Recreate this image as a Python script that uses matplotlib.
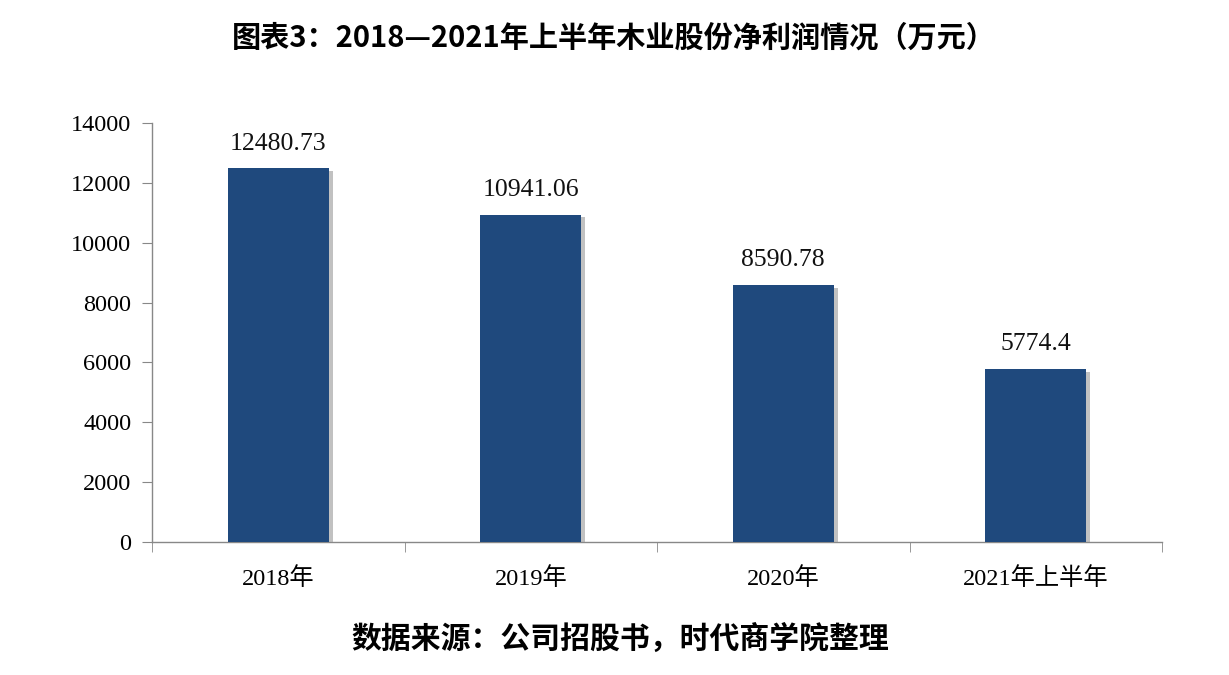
import matplotlib
matplotlib.use("Agg")
import matplotlib.pyplot as plt
import matplotlib.patheffects as pe

categories = ["2018年", "2019年", "2020年", "2021年上半年"]
values = [12480.73, 10941.06, 8590.78, 5774.4]
value_labels = ["12480.73", "10941.06", "8590.78", "5774.4"]
yticks = [0, 2000, 4000, 6000, 8000, 10000, 12000, 14000]

title = "图表3：2018—2021年上半年木业股份净利润情况（万元）"
source = "数据来源：公司招股书，时代商学院整理"

serif = ["Liberation Serif", "Noto Sans CJK SC"]
cjk = ["Noto Sans CJK SC", "DejaVu Sans"]

fig = plt.figure(figsize=(12.29, 6.75), dpi=100)
ax = fig.add_axes([152/1229, 133/675, (1162-152)/1229, (542-123)/675])

x = list(range(len(categories)))
bars = ax.bar(x, values, width=0.4, color="#1F497D", zorder=3)
for b in bars:
    b.set_path_effects([pe.SimplePatchShadow(offset=(3, -2), shadow_rgbFace="#999999", alpha=0.6), pe.Normal()])

for xi, v, lab in zip(x, values, value_labels):
    ax.annotate(lab, (xi, v), xytext=(0, 10), textcoords="offset points",
                ha="center", va="bottom", fontsize=18.5, family=serif, color="#111111")

ax.set_xlim(-0.5, len(categories) - 0.5)
ax.set_ylim(0, 14000)
ax.set_yticks(yticks)
ax.set_yticklabels([str(t) for t in yticks], family=serif, fontsize=17.5)
ax.set_xticks(x)
ax.set_xticklabels(categories, family=serif, fontsize=17.5)
ax.tick_params(axis="x", length=0, pad=18)
ax.set_xticks([i - 0.5 for i in range(len(categories) + 1)], minor=True)
ax.tick_params(axis="x", which="minor", length=7, color="#888888")
ax.tick_params(axis="y", length=7, color="#888888", pad=8)

for s in ["top", "right"]:
    ax.spines[s].set_visible(False)
for s in ["left", "bottom"]:
    ax.spines[s].set_color("#888888")
    ax.spines[s].set_linewidth(1)

fig.text(614/1229, 1 - 38/675, title, ha="center", va="center", fontsize=21,
         fontweight="bold", family=cjk)
fig.text(620/1229, 1 - 639/675, source, ha="center", va="center", fontsize=21.5,
         fontweight="bold", family=cjk)

fig.savefig("out.png", dpi=100)
